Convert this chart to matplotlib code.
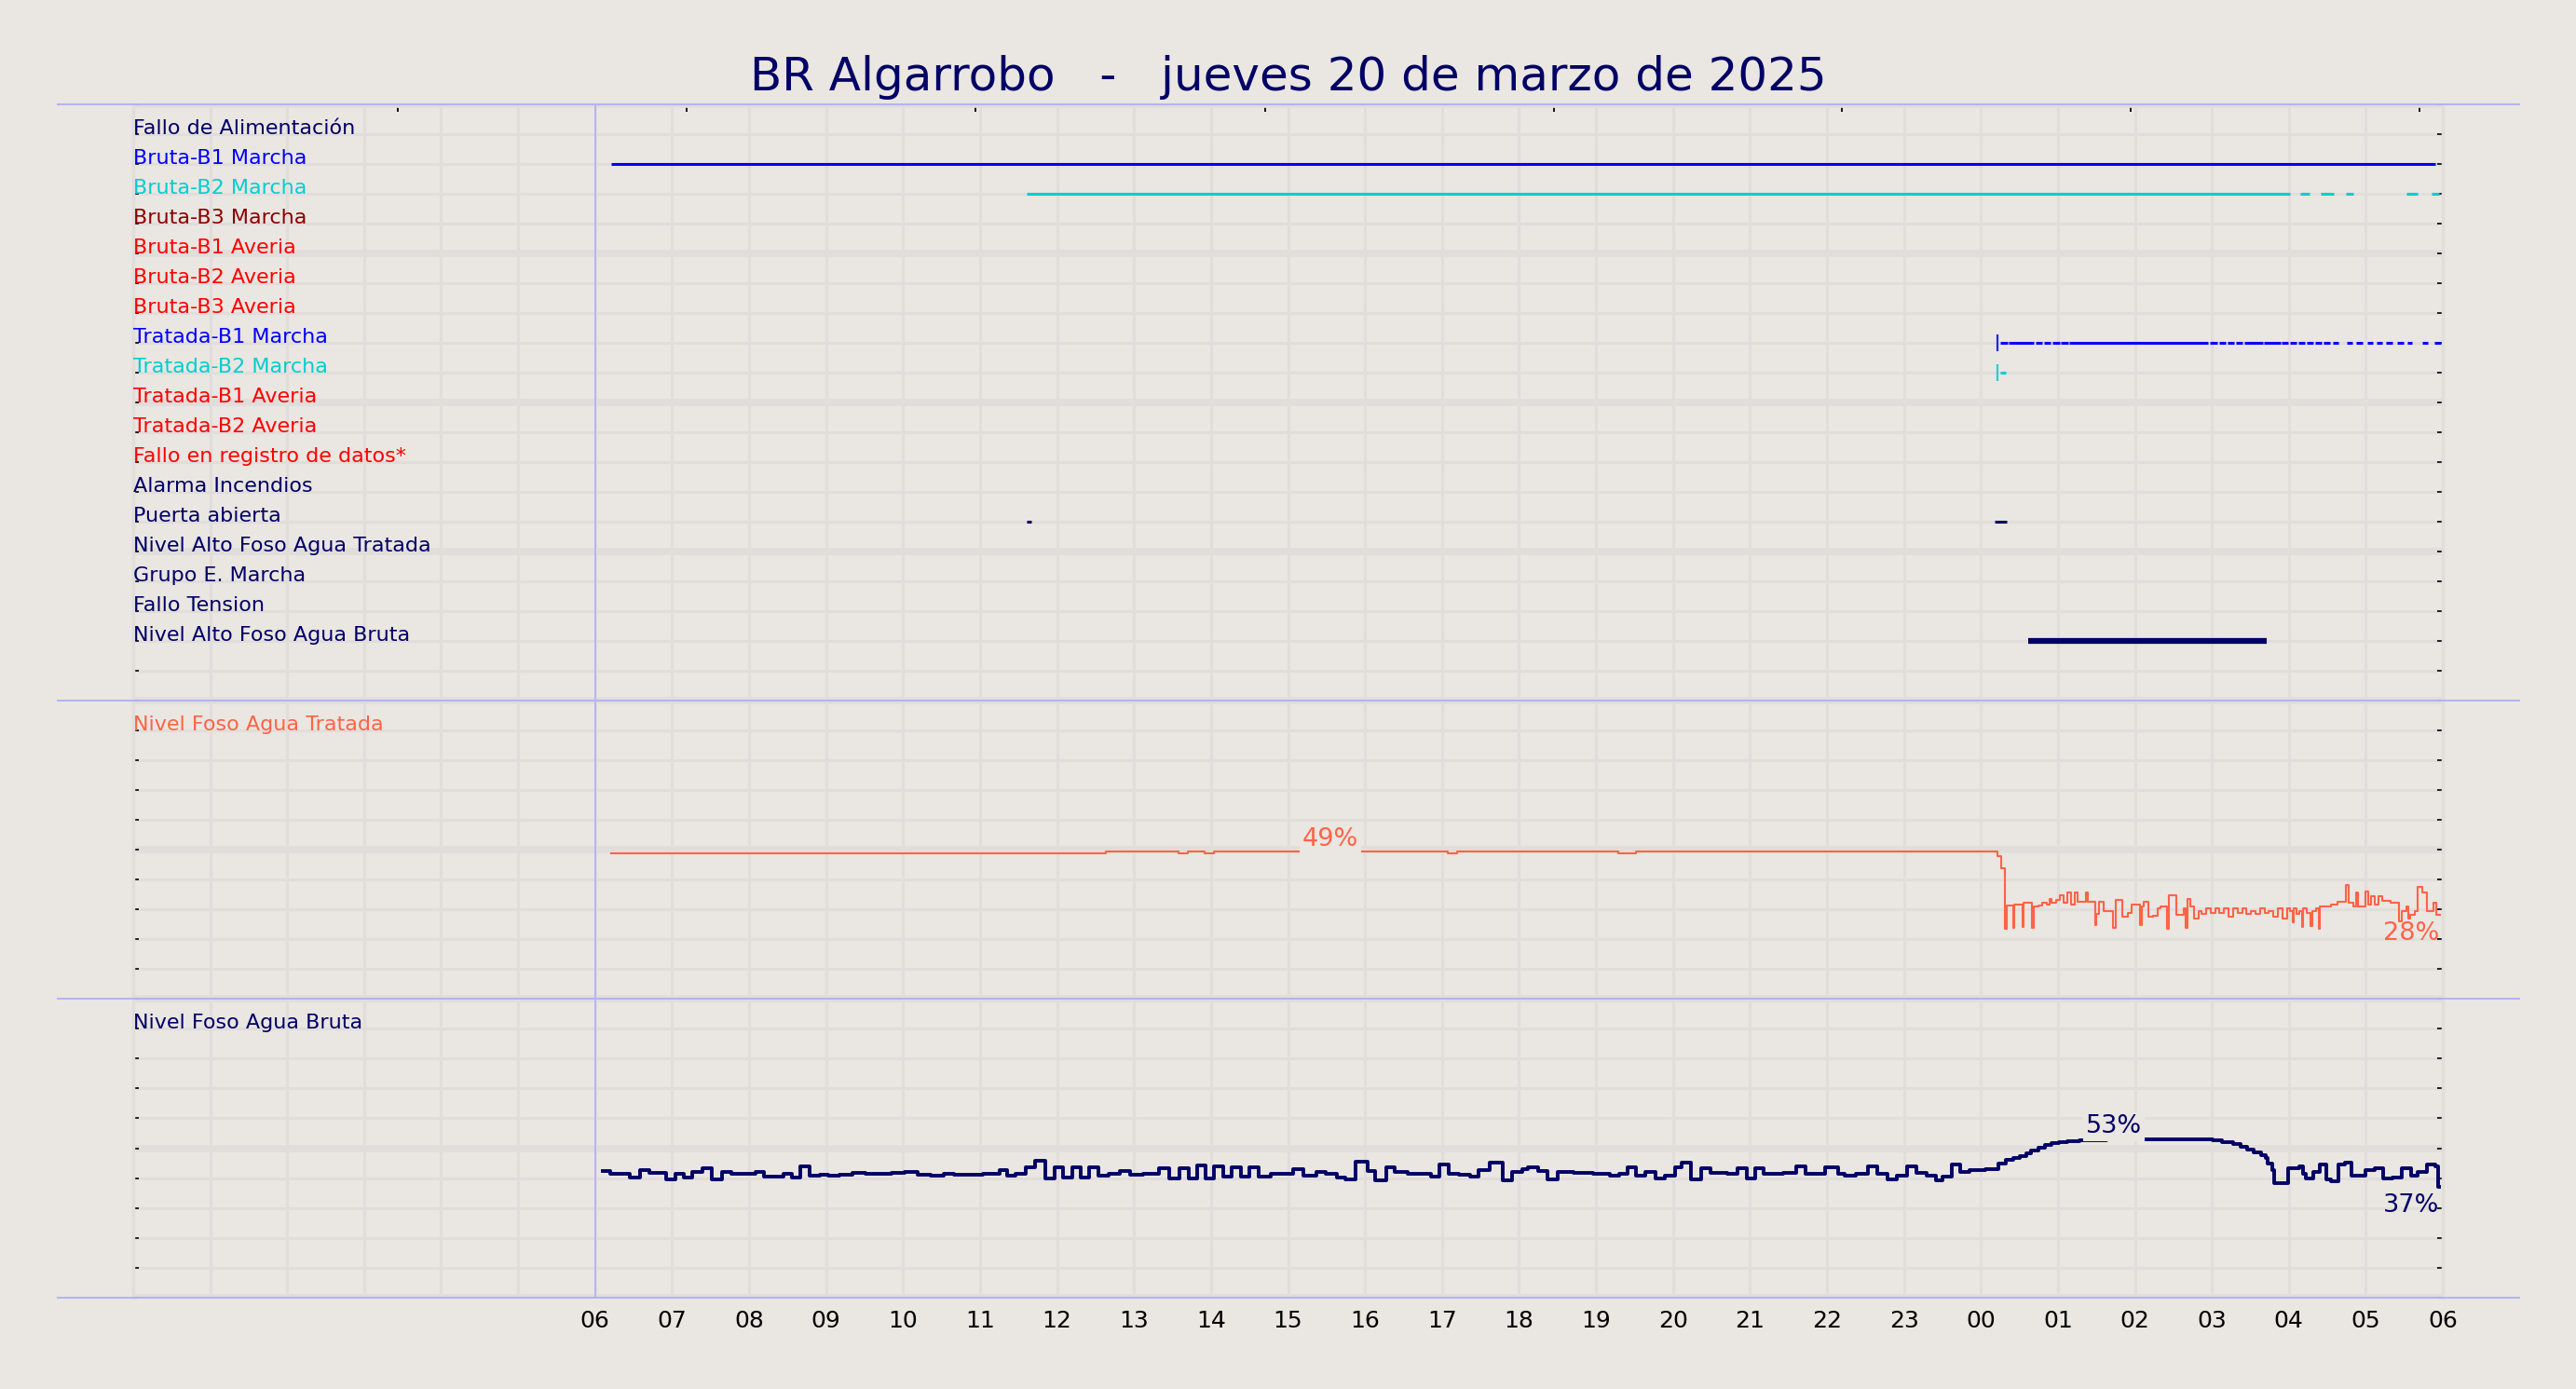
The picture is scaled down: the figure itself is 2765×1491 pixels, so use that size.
import matplotlib
matplotlib.use("Agg")
import matplotlib.pyplot as plt
from matplotlib.lines import Line2D
from matplotlib.ticker import FixedLocator, MultipleLocator

# -- colours ---------------------------------------------------------------
BG = "#EAE6E1"
GRID = "#E1DDDB"
NAVY = "#000066"
EDGE = "#B2B2F6"
TOMATO = "#FF6347"

TITLE = "BR Algarrobo   -   jueves 20 de marzo de 2025"

# -- digital signals (one row each, top to bottom) ----------------------------
SIGNALS = [
    "Fallo de Alimentación", "Bruta-B1 Marcha", "Bruta-B2 Marcha",
    "Bruta-B3 Marcha", "Bruta-B1 Averia", "Bruta-B2 Averia",
    "Bruta-B3 Averia", "Tratada-B1 Marcha", "Tratada-B2 Marcha",
    "Tratada-B1 Averia", "Tratada-B2 Averia", "Fallo en registro de datos*",
    "Alarma Incendios", "Puerta abierta", "Nivel Alto Foso Agua Tratada",
    "Grupo E. Marcha", "Fallo Tension", "Nivel Alto Foso Agua Bruta",
]
SIGNAL_COLORS = [
    NAVY, "#0000FF", "#00CED1",
    "#8B0000", "#FF0000", "#FF0000",
    "#FF0000", "#0000FF", "#00CED1",
    "#FF0000", "#FF0000", "#FF0000",
    NAVY, NAVY, NAVY,
    NAVY, NAVY, NAVY,
]

# on-periods in hours counted from 00:00 on 20 March
ON_B1_BRUTA = [(6.21, 29.90)]
ON_B2_BRUTA = [(11.61, 28.01), (28.15, 28.27), (28.41, 28.58), (28.74, 28.84),
               (29.53, 29.67), (29.86, 29.95)]
ON_B1_TRATADA = [(24.25, 24.35), (24.36, 24.69), (24.71, 24.80), (24.82, 24.91),
                 (24.93, 25.02), (25.04, 25.13), (25.15, 26.95), (26.97, 27.07),
                 (27.09, 27.18), (27.20, 27.29), (27.31, 27.40), (27.42, 27.66),
                 (27.67, 27.89), (27.90, 27.99), (28.01, 28.10), (28.12, 28.21),
                 (28.23, 28.32), (28.34, 28.43), (28.45, 28.54), (28.57, 28.64),
                 (28.75, 28.83), (28.88, 28.96), (29.02, 29.09), (29.14, 29.21),
                 (29.26, 29.34), (29.41, 29.49), (29.54, 29.60), (29.73, 29.80),
                 (29.89, 29.97)]
ON_B2_TRATADA = [(24.25, 24.33)]
ON_PUERTA = [(11.61, 11.67), (24.18, 24.34)]
ON_NIVEL_ALTO_BRUTA = [(24.61, 27.71)]
FIRST_SAMPLE_TRATADA = 24.21

# -- Nivel Foso Agua Tratada (%) ---------------------------------------------
TRAT_DAY_H = [6.21, 12.64, 13.58, 13.70, 13.92, 14.04, 17.08, 17.20, 19.29, 19.52]
TRAT_DAY_V = [48.9, 49.4, 48.9, 49.4, 48.9, 49.4, 48.9, 49.4, 48.9, 49.4]
# after midnight, minutes past 00:00 on 21 March
TRAT_NIGHT_MIN = [
    13, 16, 19, 20.2, 25, 26.2, 32.2, 33.3, 40, 41.1, 44.6, 48.1, 51.7, 53.4,
    55.2, 58.8, 61.6, 64.1, 67.6, 70.1, 72.9, 75.4, 81.8, 83.5, 88.8, 89.9,
    92.4, 95.9, 103, 104.8, 110.1, 114.3, 117.2, 124.2, 125.3, 127.1, 130.3,
    133.8, 137.7, 140.2, 144.8, 146.2, 152.6, 157.9, 159.6, 160.7, 163.2, 166,
    169.5, 172, 175.5, 179, 182.5, 186, 189.5, 193, 196.5, 200, 203.5, 207,
    210.5, 214, 217.5, 221, 224.5, 228, 231.5, 235, 238.5, 241, 242.8, 243.8,
    246, 248, 250, 251, 254, 257, 258, 261, 263.4, 264.4, 272.9, 278.2, 284.2,
    286.4, 290.6, 292.4, 294.2, 299.5, 302, 304.1, 306.6, 310.1, 312.6, 319,
    326, 327.8, 331.3, 333.1, 334.9, 338.4, 340.2, 343.7, 347.3, 352.6, 355.1,
]
TRAT_NIGHT_V = [
    47.7, 43.9, 23.4, 31.2, 23.8, 31.7, 24.2, 32.1, 23.8, 30.8, 31.2, 32.1, 31.5, 33.4,
    32.1, 33.0, 34.7, 32.1, 35.7, 31.5, 35.7, 32.4, 35.7, 32.4, 24.7, 28.3,
    32.4, 29.5, 23.8, 33.0, 27.6, 28.9, 31.5, 24.7, 30.8, 32.5, 27.6,
    27.9, 30.2, 30.8, 23.4, 34.7, 28.0, 30.2, 23.8, 33.4, 30.8, 27.0,
    29.5, 28.3, 30.2, 28.9, 30.2, 28.9, 30.2, 27.6, 30.2, 28.9, 30.2, 28.3,
    29.5, 28.3, 30.2, 28.9, 29.5, 27.6, 30.2, 27.0, 30.2, 29.5, 25.5, 30.2,
    28.3, 29.5, 24.2, 30.2, 28.9, 24.5, 29.5, 30.2, 23.4, 30.8, 31.5, 32.4, 38.2,
    32.1, 30.8, 35.7, 31.0, 35.9, 31.5, 34.4, 31.5, 34.4, 32.7, 32.1,
    26.0, 29.5, 31.0, 27.0, 28.0, 29.5, 37.5, 35.7, 29.3, 32.1, 28.0,
]
TRAT_END_H = 29.96

# -- Nivel Foso Agua Bruta (%) -----------------------------------------------
BRUTA_H = [
    6.10, 6.20, 6.455, 6.582, 6.709, 6.922, 7.049, 7.151, 7.261, 7.389, 7.516,
    7.643, 7.770, 8.085, 8.195, 8.322, 8.449, 8.551, 8.662, 8.789, 8.916, 9.027,
    9.171, 9.341, 9.511, 9.638, 9.850, 10.020, 10.190, 10.359, 10.529, 10.656,
    10.869, 11.038, 11.251, 11.352, 11.463, 11.590, 11.717, 11.845, 11.972,
    12.082, 12.193, 12.312, 12.422, 12.541, 12.668, 12.821, 12.948, 13.118,
    13.330, 13.457, 13.585, 13.712, 13.822, 13.924, 14.035, 14.162, 14.264,
    14.391, 14.501, 14.620, 14.773, 14.900, 15.070, 15.198, 15.367, 15.495,
    15.639, 15.749, 15.877, 16.029, 16.131, 16.275, 16.386, 16.556, 16.853,
    16.963, 17.082, 17.218, 17.362, 17.472, 17.617, 17.786, 17.914, 18.041,
    18.117, 18.244, 18.371, 18.499, 18.711, 18.965, 19.178, 19.305, 19.407,
    19.517, 19.645, 19.772, 19.899, 20.027, 20.111, 20.239, 20.366, 20.493,
    20.706, 20.833, 20.960, 21.071, 21.172, 21.300, 21.427, 21.597, 21.724,
    21.979, 22.149, 22.234, 22.378, 22.531, 22.658, 22.785, 22.913, 23.040,
    23.167, 23.294, 23.422, 23.507, 23.617, 23.736, 23.846, 24.058, 24.228,
    24.330, 24.419, 24.507, 24.596, 24.655, 24.744, 24.832, 24.921, 25.009,
    25.127, 25.275, 25.423, 25.629, 26.013, 26.308, 26.603, 27.016, 27.134,
    27.282, 27.371, 27.459, 27.548, 27.636, 27.695, 27.725, 27.784, 27.813,
    27.990, 28.138, 28.185, 28.226, 28.315, 28.404, 28.492, 28.551, 28.640,
    28.728, 28.817, 28.994, 29.112, 29.230, 29.348, 29.466, 29.584, 29.673,
    29.791, 29.897, 29.938,
]
BRUTA_V = [
    42.3, 41.4, 40.2, 42.7, 41.9, 39.7, 41.6, 40.1, 42.2, 43.3, 39.7,
    42.2, 41.6, 42.1, 40.4, 40.6, 41.6, 40.2, 44.0, 40.8, 41.0, 40.8,
    41.1, 41.9, 41.6, 41.4, 41.9, 42.1, 41.2, 40.8, 41.6, 41.2,
    41.1, 41.6, 42.8, 40.8, 41.6, 43.5, 45.9, 39.9, 43.5,
    40.2, 43.5, 40.2, 43.5, 40.9, 41.6, 42.5, 41.2, 41.4,
    43.3, 39.9, 43.3, 39.9, 44.4, 39.9, 43.9, 40.4, 43.7,
    40.6, 43.5, 40.4, 41.6, 41.4, 42.9, 40.9, 42.0, 41.4,
    40.2, 39.7, 45.6, 42.5, 39.4, 43.5, 42.0, 41.6, 40.6,
    44.6, 41.6, 41.1, 40.4, 42.8, 45.1, 39.4, 42.0, 42.9,
    43.7, 42.5, 39.6, 42.2, 41.9, 41.4, 40.9, 41.6, 43.7,
    40.9, 42.2, 39.9, 40.9, 43.7, 45.1, 39.6, 43.3, 41.9,
    41.4, 43.3, 39.9, 43.3, 41.4, 41.6, 41.9, 44.0, 41.6,
    43.7, 41.4, 40.9, 41.4, 44.0, 41.4, 39.6, 40.9, 44.0,
    41.9, 40.9, 39.2, 40.6, 44.5, 42.2, 42.7, 43.0, 44.8,
    46.0, 46.8, 47.3, 48.3, 49.3, 50.1, 51.0, 51.8, 52.0,
    52.4, 52.6, 52.8, 53.2, 53.1, 53.0, 52.9, 52.8, 52.0,
    51.4, 50.5, 49.5, 48.6, 47.6, 46.8, 44.8, 42.6, 38.3,
    43.3, 43.9, 41.4, 39.8, 42.0, 44.5, 39.5, 38.9, 44.5,
    45.1, 40.8, 42.6, 43.3, 39.8, 40.1, 43.3, 40.8, 42.0,
    44.5, 43.9, 37.0,
]
BRUTA_END_H = 29.956

# where the maximum labels sit (hours)
TRAT_MAX_AT = 15.55
BRUTA_MAX_AT = 25.73

HOURS = list(range(6, 31))
HOUR_LABELS = [f"{h % 24:02d}" for h in HOURS]
TOP_TICKS = [3.44, 7.19, 10.94, 14.70, 18.45, 22.20, 25.95, 29.70]

# -- figure ------------------------------------------------------------------
plt.rcParams["font.family"] = "DejaVu Sans"
fig = plt.figure(figsize=(27.65, 14.91), dpi=100, facecolor=BG)

L, R = 0.0517, 0.9483
Y_TOP, Y_A, Y_B, Y_BOT = 0.9249, 0.4956, 0.2810, 0.0657
ax_sig = fig.add_axes([L, Y_A, R - L, Y_TOP - Y_A])
ax_trat = fig.add_axes([L, Y_B, R - L, Y_A - Y_B])
ax_bruta = fig.add_axes([L, Y_BOT, R - L, Y_B - Y_BOT])
LABEL_FS = 16


def style_axes(ax, major, minor):
    ax.set_facecolor(BG)
    ax.set_axisbelow(True)
    ax.set_xlim(0, 30)
    ax.xaxis.set_major_locator(FixedLocator(HOURS))
    ax.xaxis.set_minor_locator(MultipleLocator(1))
    ax.yaxis.set_major_locator(MultipleLocator(major))
    ax.yaxis.set_minor_locator(MultipleLocator(minor))
    ax.grid(True, which="both", axis="x", color=GRID, lw=2.2)
    ax.grid(True, which="minor", axis="y", color=GRID, lw=2.2)
    ax.grid(True, which="major", axis="y", color=GRID, lw=5.5)
    for side in ("top", "bottom"):
        ax.spines[side].set_visible(False)
    for side in ("left", "right"):
        ax.spines[side].set_color(GRID)
        ax.spines[side].set_linewidth(2.5)
    ax.tick_params(axis="x", which="both", length=0, labelbottom=False)
    ax.tick_params(axis="y", which="both", direction="in", length=4, width=1.2,
                   color="black", left=True, right=True, labelleft=False)
    ax.axvline(6, color=EDGE, lw=1.3, zorder=1.5)


style_axes(ax_sig, 5, 1)
style_axes(ax_trat, 50, 10)
style_axes(ax_bruta, 50, 10)
ax_sig.set_ylim(20, 0)
ax_trat.set_ylim(0, 100)
ax_bruta.set_ylim(0, 100)

# ticks on top of the signal panel
sec = ax_sig.secondary_xaxis("top")
sec.set_xticks(TOP_TICKS)
sec.tick_params(direction="in", length=6, width=1.3, color="black", labeltop=False)
sec.spines["top"].set_visible(False)

# signal names
for i, (name, col) in enumerate(zip(SIGNALS, SIGNAL_COLORS)):
    ax_sig.text(0, i + 1, name, color=col, fontsize=LABEL_FS, ha="left", va="baseline")


def draw_periods(periods, name, lw=2.2):
    lvl = SIGNALS.index(name) + 1
    col = SIGNAL_COLORS[lvl - 1]
    for a, b in periods:
        ax_sig.plot([a, b], [lvl, lvl], color=col, lw=lw, solid_capstyle="butt", zorder=3)
    return lvl, col


draw_periods(ON_B1_BRUTA, "Bruta-B1 Marcha")
draw_periods(ON_B2_BRUTA, "Bruta-B2 Marcha")
for periods, name in ((ON_B1_TRATADA, "Tratada-B1 Marcha"), (ON_B2_TRATADA, "Tratada-B2 Marcha")):
    lvl, col = draw_periods(periods, name)
    ax_sig.plot(FIRST_SAMPLE_TRATADA, lvl, marker="|", ms=13, mew=1.6, color=col,
                alpha=0.85, zorder=3)
draw_periods(ON_PUERTA, "Puerta abierta")
draw_periods(ON_NIVEL_ALTO_BRUTA, "Nivel Alto Foso Agua Bruta", lw=4.5)

# -- analog levels -------------------------------------------------------------
trat_t = TRAT_DAY_H + [24 + m / 60 for m in TRAT_NIGHT_MIN] + [TRAT_END_H]
trat_v = TRAT_DAY_V + TRAT_NIGHT_V + [TRAT_NIGHT_V[-1]]
ax_trat.step(trat_t, trat_v, where="post", color=TOMATO, lw=1.5, zorder=3)
ax_trat.text(0, 90, "Nivel Foso Agua Tratada", color=TOMATO, fontsize=LABEL_FS,
             ha="left", va="baseline")

bruta_t = BRUTA_H + [BRUTA_END_H]
bruta_v = BRUTA_V + [BRUTA_V[-1]]
ax_bruta.step(bruta_t, bruta_v, where="post", color=NAVY, lw=2.8, zorder=3)
ax_bruta.text(0, 90, "Nivel Foso Agua Bruta", color=NAVY, fontsize=LABEL_FS,
              ha="left", va="baseline")


def level_labels(ax, t, v, max_at, col):
    ax.text(max_at, max(v), f"{round(max(v))}%", color=col, fontsize=19.5,
            ha="center", va="bottom", zorder=4,
            bbox=dict(facecolor=BG, edgecolor="none", pad=2))
    ax.annotate(f"{round(v[-1])}%", (t[-1], v[-1]), xytext=(0, -5),
                textcoords="offset points", color=col, fontsize=19.5,
                ha="right", va="top", zorder=4)


level_labels(ax_trat, trat_t, trat_v, TRAT_MAX_AT, TOMATO)
level_labels(ax_bruta, bruta_t, bruta_v, BRUTA_MAX_AT, NAVY)

ax_bruta.tick_params(axis="x", which="major", labelbottom=True, labelsize=18, pad=9)
ax_bruta.set_xticklabels(HOUR_LABELS)

# panel separators and title
for y in (Y_TOP, Y_A, Y_B, Y_BOT):
    fig.add_artist(Line2D([0.0223, 0.978], [y, y], transform=fig.transFigure,
                          color=EDGE, lw=1.4, zorder=5))
fig.text(0.5, 0.9352, TITLE, ha="center", va="baseline", fontsize=36, color=NAVY)

fig.savefig("out.png", dpi=100, facecolor=BG)
